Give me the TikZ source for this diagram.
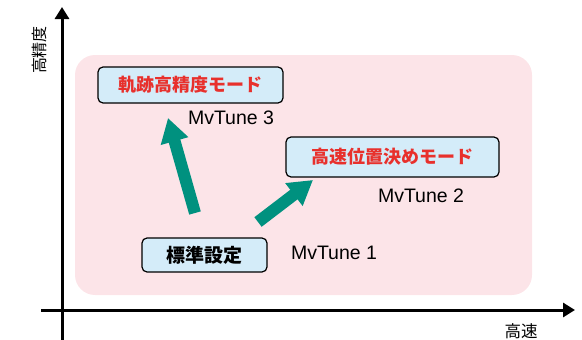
\documentclass[tikz,border=0pt]{standalone}
\usepackage{fontspec}
\setmainfont{Liberation Sans}
\newfontfamily\jpfont{Noto Sans CJK JP}
\usetikzlibrary{arrows.meta}
\definecolor{zonepink}{HTML}{FCE4E8}
\definecolor{boxblue}{HTML}{D4ECF9}
\definecolor{modered}{HTML}{E8302C}
\definecolor{stepteal}{HTML}{00917F}
\tikzset{
  modebox/.style={draw=black,fill=boxblue,line width=1.2pt,rounded corners=5pt,
    inner sep=0pt,font=\jpfont\bfseries\fontsize{18}{20}\selectfont},
  tunelabel/.style={font=\fontsize{19.5}{21}\selectfont},
  stepArrow/.style={stepteal,line width=12pt,-{Triangle[width=27pt,length=24pt]}},
  axisline/.style={line width=3pt,-{Triangle[width=14pt,length=12pt]}}
}
\begin{document}
\begin{tikzpicture}[x=1pt,y=-1pt]
   \useasboundingbox (0,0) rectangle (582,340);
   % zone
   \fill [zonepink,rounded corners=20pt] (75,55) rectangle (532,295);
   % axes
   \coordinate (yfoot) at (62,340);
   \coordinate (ytop) at (62,7);
   \coordinate (xfoot) at (41,310);
   \coordinate (xtop) at (575,310);
   \draw [axisline] (yfoot) -- (ytop);
   \draw [axisline] (xfoot) -- (xtop);
   \node (ylabel) [rotate=90,font=\jpfont\fontsize{16}{17}\selectfont] at (39.5,50) {高精度};
   \node (xlabel) [font=\jpfont\fontsize{16.5}{17}\selectfont] at (521,331) {高速};
   % modes
   \node (track) [modebox,text=modered,minimum width=185pt,minimum height=36pt] at (190.5,85) {軌跡高精度モード};
   \node (fast) [modebox,text=modered,minimum width=213pt,minimum height=40pt] at (392.5,157) {高速位置決めモード};
   \node (std) [modebox,font=\jpfont\bfseries\fontsize{19}{20}\selectfont,minimum width=125pt,minimum height=34pt] at (204.5,255) {標準設定};
   \node (tune3) [tunelabel] at (231,118) {MvTune 3};
   \node (tune2) [tunelabel] at (421,196) {MvTune 2};
   \node (tune1) [tunelabel] at (334,253) {MvTune 1};
   % steps
   \coordinate (upfoot) at (195,213);
   \coordinate (uptip) at (168,118);
   \coordinate (sidefoot) at (258,222);
   \coordinate (sidetip) at (313,180);
   \draw [stepArrow] (upfoot) -- (uptip);
   \draw [stepArrow] (sidefoot) -- (sidetip);
\end{tikzpicture}
\end{document}
